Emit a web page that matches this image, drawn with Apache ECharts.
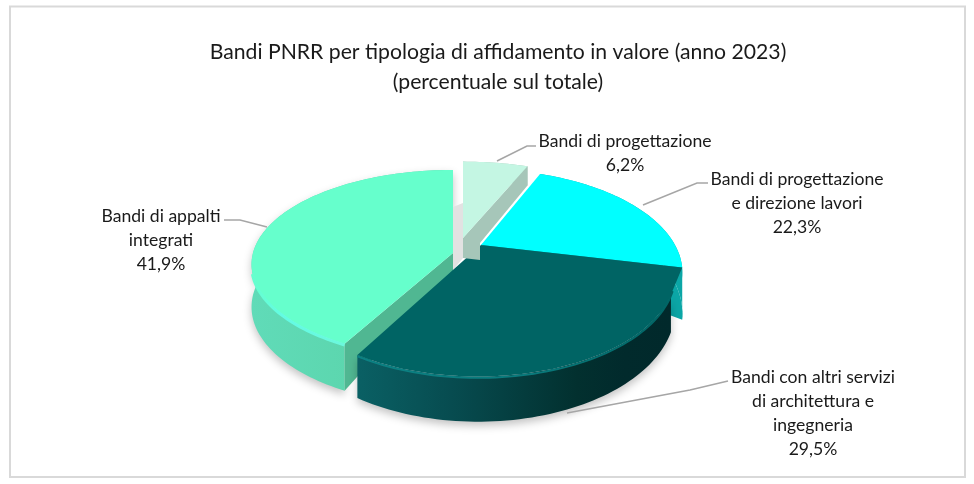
<!DOCTYPE html>
<html><head><meta charset="utf-8">
<script src="https://cdn.jsdelivr.net/npm/echarts@6/dist/echarts.min.js"></script>
<style>html,body{margin:0;padding:0;background:#fff}#c{width:974px;height:484px}</style>
</head><body><div id="c"></div>
<script>
var categories = ['Bandi di progettazione','Bandi di progettazione\ne direzione lavori','Bandi con altri servizi\ndi architettura e\ningegneria','Bandi di appalti\nintegrati'];
var values = [6.2,22.3,29.5,41.9];
var titleLines = ['Bandi PNRR per tipologia di affidamento in valore (anno 2023)','(percentuale sul totale)'];

var FONT='Lato';
var L=echarts.graphic.LinearGradient;
// geometry per slice, in draw layers
var looks=[
 {cx:463,cy:238,rx:212,ry:97,k:.27,h:24,top:'#C4F6E3',rim:null,wall:'#A6C6B9',cut:'#A6C6B9',order:4,wallFrom:0,wallTo:0,
  label:[625,153],leader:[[497,161],[527,146],[536,146]]},
 {cx:481,cy:245,rx:194,ry:96,k:.27,h:38,top:'#00FFFF',rim:null,wall:'#0BA6A6',cut:null,order:2,wallFrom:0,wallTo:.1,
  label:[797,203],leader:[[643,205],[697,183],[708,183]]},
 {cx:481,cy:245,rx:194,ry:96,k:.27,h:33,top:'#006464',rim:[[0,'#0C8284'],[.55,'#0A7A7C'],[1,'#006464']],rimW:2,
  wall:[[0,'#0A6064'],[.3,'#074C50'],[.7,'#02302F'],[.85,'#012A2C'],[1,'#01292B']],cut:null,order:3,shadow:true,wallFrom:.25,wallTo:0,wallRx:190,wallCx:478,
  label:[813,413],leader:[[567,413],[690,390],[728,381]]},
 {cx:453,cy:253,rx:200,ry:93,k:.12,h:42,top:'#66FFCC',rim:[[0,'#66FFCC'],[.35,'#63FBE4'],[1,'#6CF8DC']],rimW:3,
  wall:[[0,'#60DBB8'],[.5,'#5CD6AE'],[1,'#58CFA7']],cut:'#50B792',order:0,shadow:true,wallFrom:0,wallTo:0,
  label:[161,240],leader:[[267,227],[240,220],[224,220]]}
];
var total=values.reduce(function(a,b){return a+b},0);
var starts=[],acc=0;values.forEach(function(v){starts.push(acc);acc+=v});

function P(l,a,zh){
  var u=Math.sin(a),v=-Math.cos(a),s=1/(1-l.k*v);
  return [l.cx+l.rx*u*s,l.cy+l.ry*v*s+(zh||0)*s];
}
function arc(l,a0,a1,zh){
  var n=Math.max(4,Math.ceil((a1-a0)*40)),o=[];
  for(var i=0;i<=n;i++)o.push(P(l,a0+(a1-a0)*i/n,zh));
  return o;
}
function grad(stops){return new L(0,0,1,0,stops.map(function(s){return {offset:s[0],color:s[1]}}));}
function renderItem(params,api){
  var i=params.dataIndex,l=looks[i],val=api.value(1),
      a0=starts[i]/total*Math.PI*2,a1=a0+val/total*Math.PI*2,
      base=l.order*10,kids=[];
  var top=arc(l,a0,a1,0), bottom=arc(l,a0,a1,l.h);
  var apex=[l.cx,l.cy];
  // outer wall
  var wl={cx:l.wallCx||l.cx,cy:l.cy,rx:l.wallRx||l.rx,ry:l.ry,k:l.k};
  var wTop=arc(wl,a0+l.wallFrom,a1+l.wallTo,0), wBot=arc(wl,a0+l.wallFrom,a1+l.wallTo,l.h);
  var wallPts=wTop.concat(wBot.slice().reverse());
  var wallStyle={fill:typeof l.wall==='string'?l.wall:grad(l.wall)};
  if(l.shadow){wallStyle.shadowBlur=9;wallStyle.shadowColor='rgba(0,0,0,.24)';wallStyle.shadowOffsetY=4;}
  kids.push({type:'polygon',shape:{points:wallPts},style:wallStyle,z2:base+1});
  if(i===1){ // close the wall back to the centre so nothing shows through behind the dark slice
    kids.push({type:'polygon',shape:{points:wBot.concat([apex])},style:{fill:l.wall},z2:base+1});
  }
  // cut faces
  if(i===3){
    var c=top[0],c2=bottom[0];
    kids.push({type:'polygon',shape:{points:[apex,c,c2,[apex[0],apex[1]+l.h*.42]]},style:{fill:l.cut},z2:base+2});
  }
  if(i===0){
    var e=top[top.length-1],e2=bottom[bottom.length-1];
    kids.push({type:'polygon',shape:{points:[apex,e,e2,[l.cx+17,l.cy+5],[l.cx+17,l.cy+22],[l.cx,l.cy+20]]},style:{fill:l.cut},z2:base+2});
    // grey face of the detached slice, seen through the gap
    kids.push({type:'polygon',shape:{points:[[l.cx-10,l.cy-31],[l.cx,l.cy-35],[l.cx,l.cy+20],[l.cx-10,l.cy+32]]},style:{fill:'#E2E2E2'},z2:9});
  }
  // top face (the dark slice tapers from its shared corner onto its narrower wall)
  var topPts=l.wallRx?[apex,P(l,a0)].concat(arc(wl,a0+l.wallFrom,a1,0)):[apex].concat(top);
  kids.push({type:'polygon',shape:{points:topPts},style:{fill:l.top},z2:base+3});
  // bevel highlight
  if(l.rim){
    var rimFrom=i===2?Math.max(a0,2.0):a0,rimTo=i===2?a1:4.5;
    kids.push({type:'polyline',shape:{points:arc(wl,rimFrom,rimTo,1)},
      style:{fill:null,stroke:grad(l.rim),lineWidth:l.rimW},z2:base+4});
  }
  // leader + label
  kids.push({type:'polyline',shape:{points:l.leader},style:{fill:null,stroke:'#A6A6A6',lineWidth:1.5},z2:100});
  kids.push({type:'text',style:{text:categories[i]+'\n'+val.toFixed(1).replace('.',',')+'%',
     x:l.label[0],y:l.label[1],align:'center',verticalAlign:'middle',fontFamily:FONT,fontSize:17.6,lineHeight:24,fill:'#1a1a1a'},z2:101});
  return {type:'group',children:kids};
}
var chart=echarts.init(document.getElementById('c'),null,{renderer:'canvas'});
chart.setOption({
  animation:false,backgroundColor:'#fff',
  title:{text:titleLines.join('\n'),left:493,top:32,textAlign:'center',
    textStyle:{fontFamily:FONT,fontSize:21.2,lineHeight:30,fontWeight:'normal',color:'#1a1a1a'}},
  graphic:[{type:'rect',shape:{x:10,y:6.5,width:955,height:470.5},style:{fill:null,stroke:'#D9D9D9',lineWidth:2},silent:true}],
  series:[{type:'custom',coordinateSystem:'none',silent:true,renderItem:renderItem,
    data:categories.map(function(c,i){return [i,values[i]]})}]
});
</script></body></html>
